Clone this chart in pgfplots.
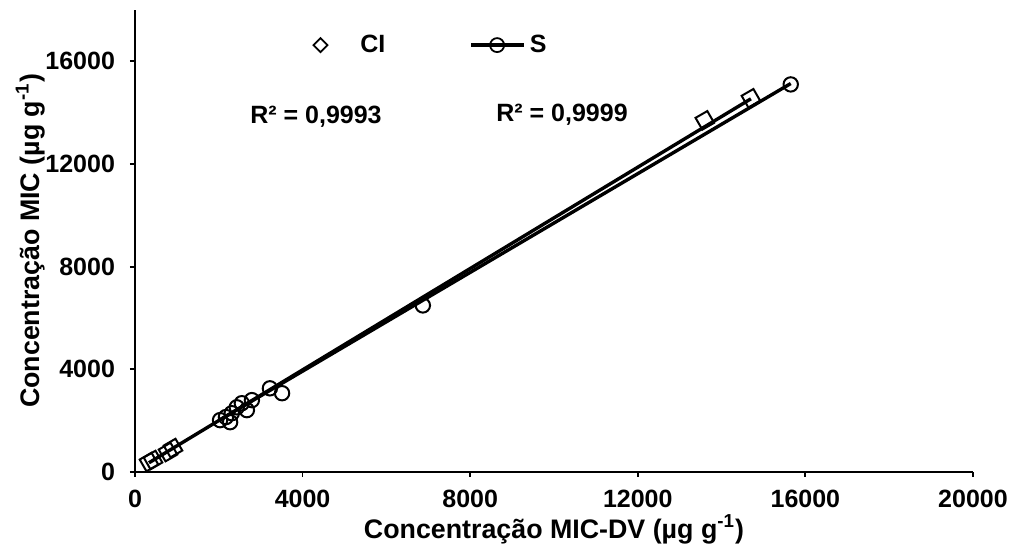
\documentclass[border=0pt]{standalone}
\usepackage{fontspec}
\setmainfont{Liberation Sans}
\usepackage{pgfplots}
\pgfplotsset{compat=1.18}
\begin{document}
\begin{tikzpicture}[font=\fontsize{12.5}{15}\selectfont\bfseries]
\useasboundingbox (-67.5pt,-41.5pt) rectangle (437pt,236pt);
\begin{axis}[
  at={(0pt,0pt)}, anchor=south west,
  scale only axis, width=419pt, height=231pt,
  xmin=0, xmax=20000, ymin=0, ymax=18000,
  axis x line=bottom, axis y line=left,
  axis line style={-, line width=0.9pt, black},
  xtick={0,4000,8000,12000,16000,20000},
  ytick={0,4000,8000,12000,16000},
  scaled ticks=false,
  tick align=outside, major tick length=2.5pt,
  tick style={line width=0.9pt, black},
  /pgf/number format/1000 sep={},
  /pgf/number format/assume math mode=true,
  ticklabel style={font=\fontsize{12.5}{15}\selectfont\bfseries},
  yticklabel style={xshift=-4pt},
  xticklabel style={yshift=-3pt},
  label style={font=\fontsize{13.4}{16}\selectfont\bfseries},
  xlabel={Concentração MIC-DV (µg g\textsuperscript{-1})},
  ylabel={Concentração MIC (µg g\textsuperscript{-1})},
  xlabel style={at={(axis description cs:0.5,-0.124)}, anchor=center},
  ylabel style={at={(axis description cs:-0.125,0.5)}, anchor=center},
  legend columns=2,
  legend style={draw=none, fill=none, at={(axis description cs:0.2017,0.924)}, anchor=west, inner sep=0pt,
    /tikz/every even column/.append style={column sep=40pt}},
]
% trendlines
\addplot[black, line width=1.7pt, forget plot] coordinates {(334,360) (14700,14540)};
\addplot[black, line width=1.7pt, forget plot] coordinates {(2030,2033) (15650,15135)};
% CI
\addplot[only marks, mark=square, mark size=3.4pt, mark options={rotate=30, line width=1pt, black}, forget plot] coordinates {
(334,388) (430,466) (788,777) (907,932) (13600,13700) (14700,14560)
};
% S
\addplot[only marks, mark=o, mark size=3.6pt, mark options={line width=1pt, black}, forget plot] coordinates {
(2030,2020) (2270,1940) (2170,2140) (2310,2290) (2430,2520) (2550,2680)
(2670,2410) (2790,2800) (3220,3260) (3510,3070) (6870,6490) (15650,15100)
};
\addlegendimage{legend image code/.code={\draw[line width=0.9pt, black] (4.5pt,0pt) -- (8pt,3.5pt) -- (11.5pt,0pt) -- (8pt,-3.5pt) -- cycle; \path[draw=none] (0pt,0pt) -- (26pt,0pt);}}
\addlegendentry{CI}
\addlegendimage{legend image code/.code={\draw[line width=1.7pt, black] (0pt,0pt) -- (26.5pt,0pt); \draw[line width=0.9pt, black] (13pt,0pt) circle (3.5pt);}}
\addlegendentry{S}
\node at (axis description cs:0.216,0.768) {R² = 0,9993};
\node at (axis description cs:0.5096,0.773) {R² = 0,9999};
\end{axis}
\end{tikzpicture}
\end{document}
